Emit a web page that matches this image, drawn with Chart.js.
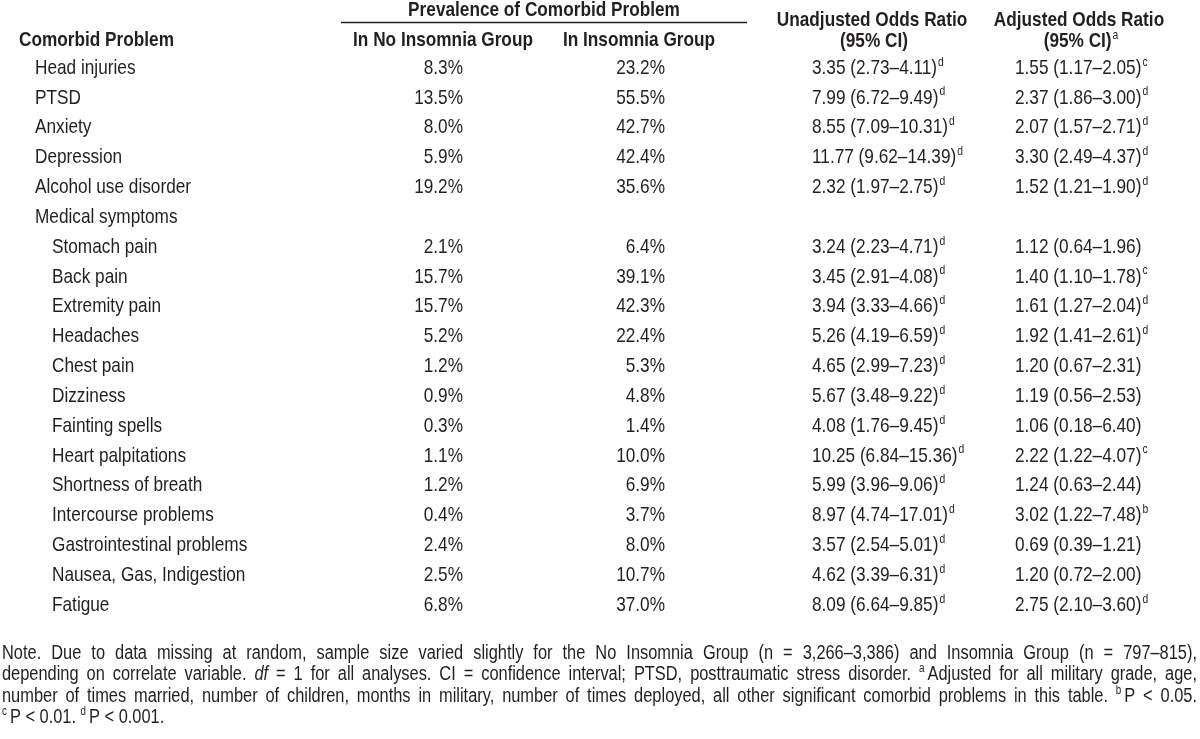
<!DOCTYPE html>
<html>
<head>
<meta charset="utf-8">
<script src="https://cdn.jsdelivr.net/npm/chart.js@4.4.1/dist/chart.umd.min.js"></script>
<style>
  html, body { margin:0; padding:0; background:#fff; }
  #wrap { width:1200px; height:739px; }
</style>
</head>
<body>
<div id="wrap"><canvas id="tbl" width="1200" height="739"></canvas></div>
<script>
// Rows of the table
const problems = ['Head injuries','PTSD','Anxiety','Depression','Alcohol use disorder','Medical symptoms',
  'Stomach pain','Back pain','Extremity pain','Headaches','Chest pain','Dizziness','Fainting spells',
  'Heart palpitations','Shortness of breath','Intercourse problems','Gastrointestinal problems',
  'Nausea, Gas, Indigestion','Fatigue'];
const indented = [0,0,0,0,0,0,1,1,1,1,1,1,1,1,1,1,1,1,1];

// Prevalence (%)
const noInsomnia = [8.3,13.5,8.0,5.9,19.2,null,2.1,15.7,15.7,5.2,1.2,0.9,0.3,1.1,1.2,0.4,2.4,2.5,6.8];
const insomnia   = [23.2,55.5,42.7,42.4,35.6,null,6.4,39.1,42.3,22.4,5.3,4.8,1.4,10.0,6.9,3.7,8.0,10.7,37.0];

// Unadjusted odds ratio (95% CI)
const unadjOR = [3.35,7.99,8.55,11.77,2.32,null,3.24,3.45,3.94,5.26,4.65,5.67,4.08,10.25,5.99,8.97,3.57,4.62,8.09];
const unadjLo = [2.73,6.72,7.09,9.62,1.97,null,2.23,2.91,3.33,4.19,2.99,3.48,1.76,6.84,3.96,4.74,2.54,3.39,6.64];
const unadjHi = [4.11,9.49,10.31,14.39,2.75,null,4.71,4.08,4.66,6.59,7.23,9.22,9.45,15.36,9.06,17.01,5.01,6.31,9.85];
const unadjSig = ['d','d','d','d','d',null,'d','d','d','d','d','d','d','d','d','d','d','d','d'];

// Adjusted odds ratio (95% CI)
const adjOR = [1.55,2.37,2.07,3.30,1.52,null,1.12,1.40,1.61,1.92,1.20,1.19,1.06,2.22,1.24,3.02,0.69,1.20,2.75];
const adjLo = [1.17,1.86,1.57,2.49,1.21,null,0.64,1.10,1.27,1.41,0.67,0.56,0.18,1.22,0.63,1.22,0.39,0.72,2.10];
const adjHi = [2.05,3.00,2.71,4.37,1.90,null,1.96,1.78,2.04,2.61,2.31,2.53,6.40,4.07,2.44,7.48,1.21,2.00,3.60];
const adjSig = ['c','d','d','d','d',null,'','c','d','d','','','','c','','b','','','d'];

// note under the table, line breaks as in the original (^x = superscript, *..* = italic)
const noteLines = [
  'Note. Due to data missing at random, sample size varied slightly for the No Insomnia Group (n = 3,266–3,386) and Insomnia Group (n = 797–815),',
  'depending on correlate variable. *df* = 1 for all analyses. CI = confidence interval; PTSD, posttraumatic stress disorder. ^aAdjusted for all military grade, age,',
  'number of times married, number of children, months in military, number of times deployed, all other significant comorbid problems in this table. ^bP < 0.05.',
  '^cP < 0.01. ^dP < 0.001.'
];

const INK = '#231f20';
const FS = 21;

// pick a narrow face, or squeeze the regular one
const probe = document.createElement('canvas').getContext('2d');
probe.font = '40px monospace';
const monoW = probe.measureText('Insomnia Group 123').width;
probe.font = '40px "Liberation Sans Narrow", monospace';
const hasNarrow = probe.measureText('Insomnia Group 123').width !== monoW;
const FAMILY = hasNarrow ? '"Liberation Sans Narrow"' : '"Liberation Sans", Arial';
const SX = hasNarrow ? 1 : 0.82;

function fontOf(size, bold, italic) {
  return (italic ? 'italic ' : '') + (bold ? 'bold ' : '') + size + 'px ' + FAMILY;
}
function textW(ctx, s, size, bold, italic) {
  ctx.font = fontOf(size, bold, italic);
  return ctx.measureText(s).width * SX;
}
function put(ctx, s, x, y, size, bold, italic, align) {
  const w = textW(ctx, s, size, bold, italic);
  let left = x;
  if (align === 'right') left = x - w;
  if (align === 'center') left = x - w / 2;
  ctx.save();
  ctx.font = fontOf(size, bold, italic);
  ctx.fillStyle = INK;
  ctx.textAlign = 'left';
  ctx.textBaseline = 'middle';
  ctx.translate(left, y);
  ctx.scale(SX, 1);
  ctx.fillText(s, 0, 0);
  ctx.restore();
  return left + w;
}
// main text plus a small raised letter
function putSup(ctx, s, sup, x, y, size, bold, align) {
  const supSize = size * 0.6;
  const total = textW(ctx, s, size, bold) + (sup ? textW(ctx, sup, supSize, false) + 1 : 0);
  let left = x;
  if (align === 'right') left = x - total;
  if (align === 'center') left = x - total / 2;
  const end = put(ctx, s, left, y, size, bold, false, 'left');
  if (sup) put(ctx, sup, end + 1, y - size * 0.28, supSize, false, false, 'left');
}

// parse a note word into styled pieces
function parseWord(w) {
  const segs = [];
  let italic = false, buf = '';
  for (let i = 0; i < w.length; i++) {
    const c = w[i];
    if (c === '^') {
      if (buf) { segs.push({ t: buf, italic }); buf = ''; }
      segs.push({ t: w[i + 1], sup: true });
      i++;
    } else if (c === '*') {
      if (buf) { segs.push({ t: buf, italic }); buf = ''; }
      italic = !italic;
    } else buf += c;
  }
  if (buf) segs.push({ t: buf, italic });
  return segs;
}
function segW(ctx, seg, size) {
  if (seg.sup) return textW(ctx, seg.t, size * 0.6) + 3;
  return textW(ctx, seg.t, size, false, seg.italic);
}
function drawNoteLine(ctx, line, x0, x1, y, size, justify) {
  const words = line.split(' ').map(parseWord);
  const widths = words.map(ws => ws.reduce((a, s) => a + segW(ctx, s, size), 0));
  const sum = widths.reduce((a, b) => a + b, 0);
  const space = textW(ctx, ' ', size);
  const gap = justify && words.length > 1 ? (x1 - x0 - sum) / (words.length - 1) : space;
  let x = x0;
  words.forEach((ws, i) => {
    let cx = x;
    ws.forEach(s => {
      if (s.sup) put(ctx, s.t, cx, y - size * 0.28, size * 0.6, false, false, 'left');
      else put(ctx, s.t, cx, y, size, false, s.italic, 'left');
      cx += segW(ctx, s, size);
    });
    x += widths[i] + gap;
  });
}

// column anchors (x scale runs in page pixels)
const COL = { label: 35, labelIndent: 52, noIns: 463, ins: 665, unadj: 812, adj: 1015 };

const fmtPct = v => v.toFixed(1) + '%';
const fmtOR = (o, l, h) => o.toFixed(2) + ' (' + l.toFixed(2) + '–' + h.toFixed(2) + ')';

function column(x, cellText, cellSup) {
  const pts = [];
  problems.forEach((p, i) => {
    const t = cellText(i);
    if (t !== null) pts.push({ x: x, y: p, t: t, sup: cellSup ? cellSup(i) : '' });
  });
  return pts;
}

const datasets = [
  { label: 'noIns', align: 'right', data: column(COL.noIns, i => noInsomnia[i] == null ? null : fmtPct(noInsomnia[i])) },
  { label: 'ins', align: 'right', data: column(COL.ins, i => insomnia[i] == null ? null : fmtPct(insomnia[i])) },
  { label: 'unadj', align: 'left', data: column(COL.unadj,
      i => unadjOR[i] == null ? null : fmtOR(unadjOR[i], unadjLo[i], unadjHi[i]), i => unadjSig[i]) },
  { label: 'adj', align: 'left', data: column(COL.adj,
      i => adjOR[i] == null ? null : fmtOR(adjOR[i], adjLo[i], adjHi[i]), i => adjSig[i]) }
].map(d => Object.assign(d, { pointRadius: 0, pointHoverRadius: 0, showLine: false }));

const tablePlugin = {
  id: 'tableText',
  afterDatasetsDraw(chart) {
    const ctx = chart.ctx;
    const yScale = chart.scales.y;
    const top = chart.chartArea.top;

    // header
    put(ctx, 'Prevalence of Comorbid Problem', 544, top - 58, FS, true, false, 'center');
    ctx.save();
    ctx.strokeStyle = INK;
    ctx.lineWidth = 1.3;
    ctx.beginPath();
    ctx.moveTo(341, top - 45.5);
    ctx.lineTo(747, top - 45.5);
    ctx.stroke();
    ctx.restore();
    put(ctx, 'Comorbid Problem', 19, top - 28, FS, true, false, 'left');
    put(ctx, 'In No Insomnia Group', 443, top - 28, FS, true, false, 'center');
    put(ctx, 'In Insomnia Group', 639, top - 28, FS, true, false, 'center');
    put(ctx, 'Unadjusted Odds Ratio', 872, top - 48, FS, true, false, 'center');
    put(ctx, '(95% CI)', 874, top - 27, FS, true, false, 'center');
    put(ctx, 'Adjusted Odds Ratio', 1079, top - 48, FS, true, false, 'center');
    putSup(ctx, '(95% CI)', 'a', 1081, top - 27, FS, true, 'center');

    // row labels from the category axis
    problems.forEach((p, i) => {
      const y = yScale.getPixelForValue(i);
      put(ctx, p, indented[i] ? COL.labelIndent : COL.label, y, FS, false, false, 'left');
    });

    // cells at the dataset points
    chart.data.datasets.forEach((ds, di) => {
      chart.getDatasetMeta(di).data.forEach((el, j) => {
        const raw = ds.data[j];
        putSup(ctx, raw.t, raw.sup, el.x, el.y, FS, false, ds.align);
      });
    });

    // note
    const noteTop = chart.chartArea.bottom + 48;
    noteLines.forEach((ln, k) => {
      drawNoteLine(ctx, ln, 2, 1197, noteTop + k * 21.5, 20, k < noteLines.length - 1);
    });
  }
};

new Chart(document.getElementById('tbl'), {
  type: 'scatter',
  data: { labels: problems, datasets: datasets },
  options: {
    responsive: false,
    animation: false,
    devicePixelRatio: 1,
    layout: { padding: { top: 68, bottom: 134, left: 0, right: 0 } },
    plugins: { legend: { display: false }, tooltip: { enabled: false } },
    events: [],
    scales: {
      x: { type: 'linear', min: 0, max: 1200, display: false },
      y: { type: 'category', labels: problems, offset: false, display: false }
    }
  },
  plugins: [tablePlugin]
});
</script>
</body>
</html>
